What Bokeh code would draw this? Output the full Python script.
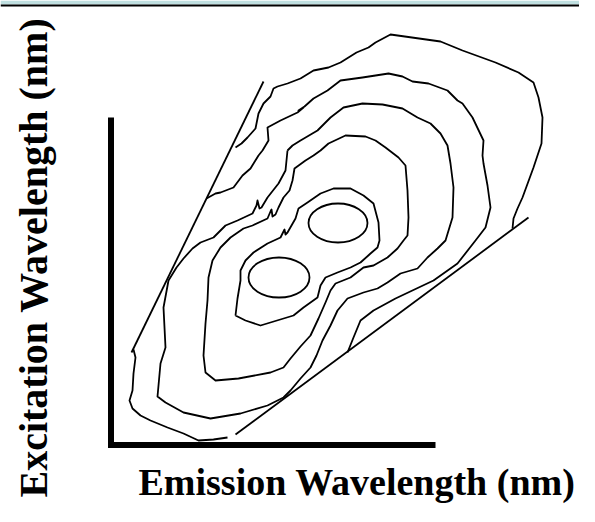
from bokeh.plotting import figure
from bokeh.models import Range1d
from bokeh.core.properties import value
from bokeh.embed import file_html
from bokeh.resources import INLINE

# ---- schematic EEM contour data (emission = x, excitation = y, drawing units) ----
axis_x = [110.5, 110.5, 435]
axis_y = [117, 444.5, 444.5]

upper_scatter_x = [263, 131]
upper_scatter_y = [81, 352]
lower_scatter_x = [528, 235]
lower_scatter_y = [217, 434]

contour_a_x = [235, 241, 247, 255, 258, 263, 270, 273, 277, 287, 300, 313, 328, 340, 348, 356, 368, 375, 390,
               440, 462, 495, 518, 533, 538, 542, 541, 533, 522, 517, 513, 512]
contour_a_y = [147, 143, 137, 128, 113, 103, 96, 88, 86, 83, 78, 70, 67, 62, 57, 52, 47, 42, 34,
               41, 50, 62, 72, 82, 97, 117, 143, 167, 197, 208, 218, 228]

contour_b_x = [206, 215, 220, 233, 242, 250, 258, 262, 268, 267, 280, 297, 303, 298, 304, 313, 327, 340, 362,
               388, 402, 412, 428, 447, 457, 462, 472, 483, 482, 483, 487, 490, 485, 475, 457, 433, 395, 373,
               360, 353, 347]
contour_b_y = [198, 193, 192, 187, 175, 168, 155, 150, 140, 127, 120, 112, 107, 110, 106, 98, 90, 80, 77,
               73, 76, 81, 83, 90, 100, 103, 117, 140, 155, 163, 185, 207, 227, 240, 263, 280, 298, 310,
               320, 337, 352]

contour_c_x = [287, 292, 300, 317, 330, 343, 362, 382, 402, 417, 430, 440, 447, 450, 453, 452, 445, 437, 427,
               417, 400, 387, 377, 363, 347, 337, 330, 322, 316, 310, 300, 290, 283, 267, 240, 210, 183, 165,
               157, 160, 165, 163, 168, 176, 183, 192, 200, 213, 225, 237, 252, 256, 257, 259, 261, 267, 278,
               285, 287]
contour_c_y = [150, 145, 140, 130, 117, 107, 103, 104, 108, 117, 123, 133, 145, 163, 187, 217, 240, 248, 257,
               268, 273, 282, 288, 292, 298, 310, 325, 340, 355, 367, 378, 390, 397, 405, 413, 418, 412, 402,
               396, 363, 347, 307, 280, 267, 258, 248, 242, 237, 225, 220, 213, 205, 200, 208, 207, 197, 183,
               170, 150]

contour_d_x = [235, 237, 240, 240, 245, 253, 267, 280, 284, 285, 287, 295, 298, 307, 320, 333, 350, 363, 373,
               378, 379, 377, 370, 360, 350, 337, 325, 320, 317, 303, 293, 260, 245, 235]
contour_d_y = [315, 298, 280, 270, 260, 252, 243, 237, 229, 234, 232, 218, 208, 202, 193, 188, 188, 195, 203,
               222, 240, 247, 253, 262, 267, 272, 277, 285, 297, 307, 315, 325, 320, 315]

contour_e_x = [320, 328, 345, 365, 375, 385, 398, 405, 407, 408, 407, 403, 397, 387, 373, 363, 350, 335, 330,
               325, 318, 310, 300, 290, 283, 270, 238, 215, 205, 203, 205, 207, 208, 212, 220, 230, 243, 252,
               267, 270, 271, 272, 275, 278, 283, 289, 292, 294, 305, 313, 320]
contour_e_y = [150, 143, 135, 136, 140, 147, 157, 165, 190, 217, 235, 240, 248, 257, 265, 267, 277, 283, 290,
               302, 318, 335, 346, 358, 367, 372, 378, 380, 372, 355, 323, 300, 277, 260, 247, 237, 228, 225,
               218, 211, 209, 216, 214, 207, 197, 190, 180, 168, 160, 155, 150]

contour_f_x = [133, 135, 133, 132, 129, 132, 140, 150, 167, 183, 198, 213, 227]
contour_f_y = [349, 357, 373, 390, 400, 408, 415, 420, 427, 433, 440, 439, 437]

peak_x = [337.5, 278.5]
peak_y = [222.5, 277]
peak_w = [59, 61]
peak_h = [39, 40]

x_title = "Emission Wavelength (nm)"
y_title = "Excitation Wavelength (nm)"

# slide frame at the top edge (band, rule)
frame_band = [0, 4]
frame_rule = [4, 6]

# ---- figure: drawing units map 1:1 onto the figure's pixels ----
W, H = 579, 506
p = figure(width=W, height=H, x_range=Range1d(0, W), y_range=Range1d(H, 0),
           output_backend="svg", toolbar_location=None, x_axis_type=None, y_axis_type=None,
           min_border=0, outline_line_color=None, background_fill_color="white")
p.grid.visible = False

p.quad(left=[0], right=[W], top=[frame_band[0]], bottom=[frame_band[1]],
       fill_color="#bfdfe0", line_color=None)
p.quad(left=[0], right=[W], top=[frame_rule[0]], bottom=[frame_rule[1]],
       fill_color="black", line_color=None)

lw = 1.8
p.line(axis_x, axis_y, line_color="black", line_width=6, line_join="miter", line_cap="butt")
p.line(upper_scatter_x, upper_scatter_y, line_color="black", line_width=lw)
p.line(lower_scatter_x, lower_scatter_y, line_color="black", line_width=lw)
for cx, cy in [(contour_a_x, contour_a_y), (contour_b_x, contour_b_y), (contour_c_x, contour_c_y),
               (contour_d_x, contour_d_y), (contour_e_x, contour_e_y), (contour_f_x, contour_f_y)]:
    p.line(cx, cy, line_color="black", line_width=lw, line_join="round")
p.ellipse(x=peak_x, y=peak_y, width=peak_w, height=peak_h, fill_color=None,
          line_color="black", line_width=lw)

p.text(x=[138], y=[481], text=[x_title], text_font=value("Liberation Serif"),
       text_font_style="bold", text_font_size="38px", text_color="black",
       text_align="left", text_baseline="alphabetic")
p.text(x=[33], y=[497], text=[y_title], angle=1.5707963, text_font=value("Liberation Serif"),
       text_font_style="bold", text_font_size="40px", text_color="black",
       text_align="left", text_baseline="alphabetic")

open("out.html", "w").write(file_html(p, INLINE))
